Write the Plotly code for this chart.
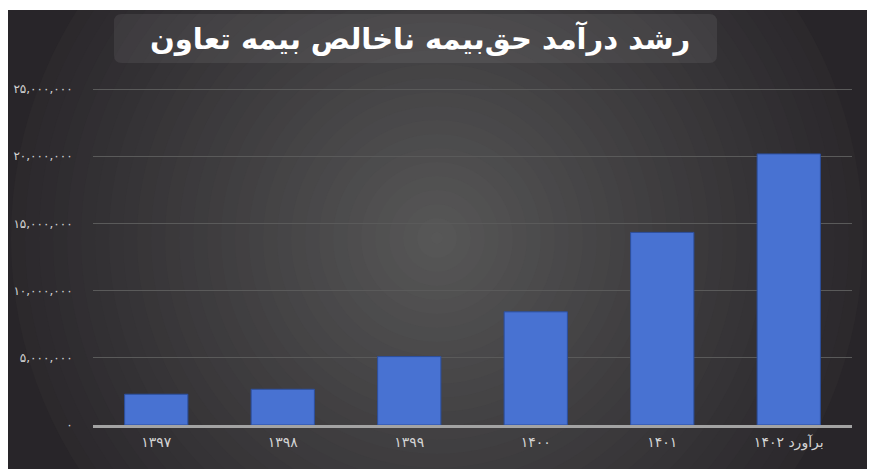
import plotly.graph_objects as go

# Datos de la gráfica (حق‌بیمه ناخالص)
years = ["۱۳۹۷", "۱۳۹۸", "۱۳۹۹", "۱۴۰۰", "۱۴۰۱", "برآورد ۱۴۰۲"]
premium = [2290000, 2660000, 5090000, 8420000, 14330000, 20170000]
tick_values = [0, 5000000, 10000000, 15000000, 20000000, 25000000]
tick_labels = ["۰", "۵,۰۰۰,۰۰۰", "۱۰,۰۰۰,۰۰۰", "۱۵,۰۰۰,۰۰۰", "۲۰,۰۰۰,۰۰۰", "۲۵,۰۰۰,۰۰۰"]
title_text = "رشد درآمد حق\u200cبیمه ناخالص بیمه تعاون"

# La página deja 8 px de margen: todo se mide en píxeles de pantalla
OFF = 8
W, H = 875 - OFF, 474 - OFF
L, R, T, B = 93, 852, 87, 425
Y_TOP = 89  # píxel donde cae la línea de 25 millones
y_max = tick_values[-1] * (B - T) / (B - Y_TOP)


def px(x):
    """Píxel horizontal de pantalla -> coordenada paper."""
    return (x - L) / (R - L)


def py(y):
    """Píxel vertical de pantalla -> coordenada paper."""
    return (B - y) / (B - T)


def mix(c1, c2, f):
    return "rgb({},{},{})".format(*[round(a + (b - a) * f) for a, b in zip(c1, c2)])


shapes = []
edge = (40, 37, 41)
center = (88, 88, 88)

# Fondo oscuro
shapes.append(dict(type="rect", xref="paper", yref="paper", layer="below",
                   x0=px(8), x1=px(869), y0=py(469), y1=py(10),
                   fillcolor=mix(edge, edge, 0), line_width=0))

# Degradado radial aproximado con círculos concéntricos (sin salir del fondo a los lados)
cx, cy = 437, 238
for r in range(426, 0, -14):
    f = (1 - r / 470) ** 1.1
    shapes.append(dict(type="circle", xref="paper", yref="paper", layer="below",
                       x0=px(cx - r), x1=px(cx + r), y0=py(cy + r), y1=py(cy - r),
                       fillcolor=mix(edge, center, f), line_width=0))

# Borde blanco arriba y abajo
for y0, y1 in [(8, 10), (469, 480)]:
    shapes.append(dict(type="rect", xref="paper", yref="paper", layer="below",
                       x0=px(8), x1=px(875), y0=py(y1), y1=py(y0),
                       fillcolor="white", line_width=0))

# Caja del título con esquinas redondeadas
bx0, by0, bx1, by1, rr = 114, 14, 717, 63, 8
path = (f"M {px(bx0 + rr)},{py(by0)} L {px(bx1 - rr)},{py(by0)} "
        f"Q {px(bx1)},{py(by0)} {px(bx1)},{py(by0 + rr)} L {px(bx1)},{py(by1 - rr)} "
        f"Q {px(bx1)},{py(by1)} {px(bx1 - rr)},{py(by1)} L {px(bx0 + rr)},{py(by1)} "
        f"Q {px(bx0)},{py(by1)} {px(bx0)},{py(by1 - rr)} L {px(bx0)},{py(by0 + rr)} "
        f"Q {px(bx0)},{py(by0)} {px(bx0 + rr)},{py(by0)} Z")
shapes.append(dict(type="path", xref="paper", yref="paper", layer="below",
                   path=path, fillcolor="rgba(255,255,255,0.07)", line_width=0))

fig = go.Figure(go.Bar(x=years, y=premium,
                       marker=dict(color="#4872d2",
                                   line=dict(color="#2c4f9e", width=1))))

fig.update_layout(
    width=W, height=H,
    margin=dict(l=L - OFF, r=875 - R, t=T - OFF, b=474 - B, pad=0),
    paper_bgcolor="white", plot_bgcolor="rgba(0,0,0,0)",
    bargap=0.5, showlegend=False,
    font=dict(family="DejaVu Sans", color="#d6d6d6"),
    shapes=shapes,
    annotations=[dict(text=f"<b>{title_text}</b>", xref="paper", yref="paper",
                      x=px(420), y=py(39), xanchor="center", yanchor="middle",
                      showarrow=False,
                      font=dict(family="DejaVu Sans", size=29, color="white"))],
    xaxis=dict(type="category", showgrid=False, showline=True,
               linecolor="#a3a3a3", linewidth=3, ticks="outside", ticklen=2,
               tickcolor="rgba(0,0,0,0)", tickfont=dict(size=14, color="#d4d4d4"),
               fixedrange=True, automargin=False),
    yaxis=dict(range=[0, y_max], tickvals=tick_values, ticktext=tick_labels,
               showgrid=True, gridcolor="#5a5a5a", gridwidth=1, zeroline=False,
               ticks="outside", ticklen=17, tickcolor="rgba(0,0,0,0)",
               tickfont=dict(size=12, color="#d4d4d4"), fixedrange=True,
               automargin=False),
)

fig.write_html("out.html")
